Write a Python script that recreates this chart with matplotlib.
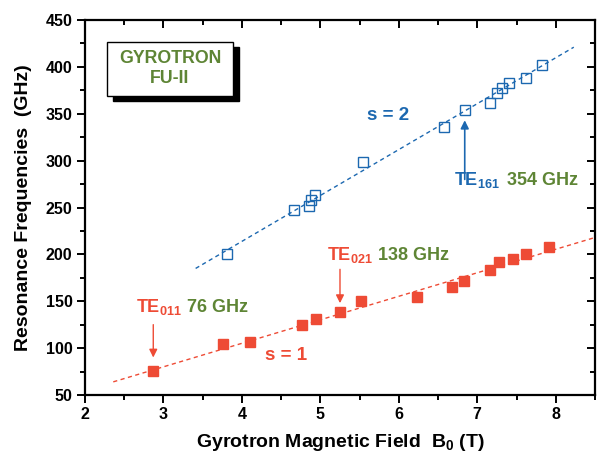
import numpy as np
import matplotlib
matplotlib.use("Agg")
import matplotlib.pyplot as plt
from matplotlib.patches import Rectangle
from matplotlib.ticker import MultipleLocator

plt.rcParams['font.family'] = ['Liberation Sans', 'DejaVu Sans']
plt.rcParams['font.weight'] = 'bold'
plt.rcParams['mathtext.fontset'] = 'custom'
plt.rcParams['mathtext.rm'] = 'Liberation Sans:bold'
plt.rcParams['mathtext.bf'] = 'Liberation Sans:bold'
plt.rcParams['mathtext.default'] = 'rm'

# s = 1 (fundamental), filled squares
b_s1 = [2.87, 3.76, 4.10, 4.77, 4.94, 5.25, 5.52, 6.23, 6.68, 6.83,
        7.16, 7.28, 7.45, 7.62, 7.92]
f_s1 = [76, 104, 107, 125, 131, 138, 150, 155, 165, 172,
        183, 192, 195, 200, 208]

# s = 2 (second harmonic), open squares
b_s2 = [3.81, 4.67, 4.86, 4.88, 4.93, 5.54, 6.57, 6.84, 7.16, 7.25,
        7.32, 7.41, 7.62, 7.83]
f_s2 = [200, 247, 252, 258, 263, 299, 336, 354, 362, 372,
        377, 383, 388, 402]

# fitted lines (end points)
fit1_b = [2.36, 8.5]
fit1_f = [64, 218]
fit2_b = [3.41, 8.23]
fit2_f = [185, 421]

red = '#ee4b35'
blue = '#1c68b0'
green = '#5e8535'

fig = plt.figure(figsize=(5.97, 4.57), dpi=100)
ax = fig.add_axes([0.1424, 0.1357, 0.8542, 0.8205])

ax.plot(fit1_b, fit1_f, color=red, lw=1, ls=(0, (3, 2.5)))
ax.plot(fit2_b, fit2_f, color=blue, lw=1, ls=(0, (3, 2.5)))
ax.plot(b_s1, f_s1, 's', color=red, ms=7, mec=red)
ax.plot(b_s2, f_s2, 's', mfc='none', mec=blue, ms=7, mew=1)

ax.set_xlim(2, 8.5)
ax.set_ylim(50, 450)
ax.xaxis.set_major_locator(MultipleLocator(1))
ax.xaxis.set_minor_locator(MultipleLocator(0.5))
ax.yaxis.set_major_locator(MultipleLocator(50))
ax.yaxis.set_minor_locator(MultipleLocator(25))
for s in ax.spines.values():
    s.set_linewidth(1.6)
ax.tick_params(which='both', direction='out', width=1.4, labelsize=11.5, pad=3)
ax.tick_params(which='major', length=6)
ax.tick_params(which='minor', length=3.6)
ax.tick_params(which='both', top=True, right=True)
for t in ax.xaxis.get_ticklines(minor=False)[1::2] + ax.xaxis.get_ticklines(minor=True)[1::2]:
    t.set_marker(3)  # top ticks pointing inward
for t in ax.yaxis.get_ticklines(minor=False)[1::2] + ax.yaxis.get_ticklines(minor=True)[1::2]:
    t.set_marker(0)  # right ticks pointing inward

ax.set_xlabel(r'Gyrotron Magnetic Field  B$_0$ (T)', fontsize=14, fontweight='bold', labelpad=7)
ax.set_ylabel('Resonance Frequencies  (GHz)', fontsize=14, fontweight='bold', labelpad=10)

# label box with shadow
ax.add_patch(Rectangle((0.0545, 0.785), 0.2475, 0.144, transform=ax.transAxes,
                       facecolor='black', edgecolor='black', zorder=3))
ax.add_patch(Rectangle((0.0425, 0.798), 0.2475, 0.144, transform=ax.transAxes,
                       facecolor='white', edgecolor='black', lw=1, zorder=4))
ax.text(0.1667, 0.871, 'GYROTRON\nFU-II', transform=ax.transAxes, ha='center',
        va='center', color=green, fontsize=12.8, fontweight='bold', linespacing=1.25, zorder=5)

ax.text(5.86, 348.5, 's = 2', color=blue, fontsize=13.5, fontweight='bold', ha='center', va='center')
ax.text(4.56, 92, 's = 1', color=red, fontsize=13.5, fontweight='bold', ha='center', va='center')

ax.text(2.65, 138.8, r'TE$_{011}$', color=red, fontsize=13, fontweight='bold', va='baseline')
ax.text(3.30, 138.8, '76 GHz', color=green, fontsize=13, fontweight='bold', va='baseline')
ax.annotate('', xy=(2.87, 87), xytext=(2.87, 128),
            arrowprops=dict(arrowstyle='-|>', color=red, lw=1, mutation_scale=12))

ax.text(5.08, 194, r'TE$_{021}$', color=red, fontsize=13, fontweight='bold', va='baseline')
ax.text(5.74, 194, '138 GHz', color=green, fontsize=13, fontweight='bold', va='baseline')
ax.annotate('', xy=(5.25, 145), xytext=(5.25, 187),
            arrowprops=dict(arrowstyle='-|>', color=red, lw=1, mutation_scale=12))

ax.text(6.70, 274, r'TE$_{161}$', color=blue, fontsize=13, fontweight='bold', va='baseline')
ax.text(7.38, 274, '354 GHz', color=green, fontsize=13, fontweight='bold', va='baseline')
ax.annotate('', xy=(6.84, 346), xytext=(6.84, 277),
            arrowprops=dict(arrowstyle='-|>', color=blue, lw=1.2, mutation_scale=12))

fig.savefig('out.png', dpi=100)
